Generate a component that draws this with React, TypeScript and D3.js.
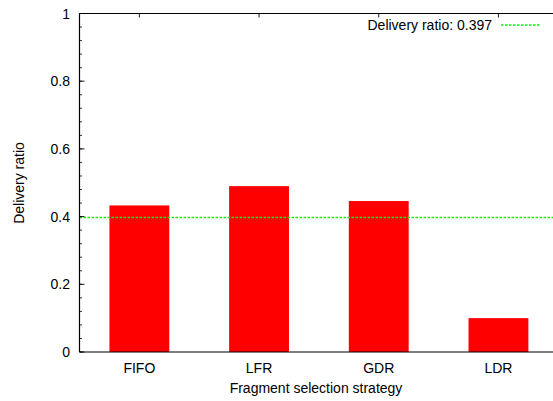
import React from "react";
import * as d3 from "d3";

const categories = ["FIFO", "LFR", "GDR", "LDR"];
const deliveryRatios = [0.433, 0.49, 0.446, 0.1];
const baselineRatio = 0.397;
const baselineLabel = "Delivery ratio: 0.397";
const yTicks = [0, 0.2, 0.4, 0.6, 0.8, 1];
const yMinorTicks = d3.range(0, 1.0001, 0.04);

const W = 553;
const H = 401;
const margin = { left: 79.5, top: 13.5, bottomY: 352 };
const FONT = "'Liberation Sans', Arial, Helvetica, sans-serif";
const FS = 14;
const GREEN = "#11ee11";

export default function App() {
  const x = d3
    .scaleLinear()
    .domain([-0.5, categories.length - 0.5])
    .range([margin.left, margin.left + 119.7 * categories.length]);
  const y = d3.scaleLinear().domain([0, 1]).range([margin.bottomY, margin.top]);
  const right = x(categories.length - 0.5);
  const barW = x(0.25) - x(0);

  return (
    <svg
      width={W}
      height={H}
      style={{ position: "absolute", left: 0, top: 0, background: "#fff" }}
      fontFamily={FONT}
    >
      {/* bars */}
      {deliveryRatios.map((v, i) => (
        <rect
          key={categories[i]}
          x={x(i) - barW}
          y={y(v)}
          width={barW * 2}
          height={y(0) - y(v)}
          fill="#ff0000"
        />
      ))}

      {/* baseline */}
      <line
        x1={x(-0.5)}
        x2={right}
        y1={y(baselineRatio)}
        y2={y(baselineRatio)}
        stroke={GREEN}
        strokeWidth={1.5}
        strokeDasharray="2.5,1.5"
      />

      {/* frame */}
      <line x1={x(-0.5)} x2={right} y1={y(1)} y2={y(1)} stroke="#000" strokeWidth={1.2} />
      <line x1={x(-0.5)} x2={right} y1={y(0)} y2={y(0)} stroke="#000" strokeWidth={1.2} />
      <line x1={x(-0.5)} x2={x(-0.5)} y1={y(0)} y2={y(1)} stroke="#000" strokeWidth={1.2} />

      {/* y ticks */}
      {yMinorTicks.map((t, i) => (
        <line
          key={"m" + i}
          x1={x(-0.5)}
          x2={x(-0.5) + 2.5}
          y1={y(t)}
          y2={y(t)}
          stroke="#000"
          strokeWidth={0.8}
        />
      ))}
      {yTicks.map((t) => (
        <g key={t}>
          <line x1={x(-0.5)} x2={x(-0.5) + 5} y1={y(t)} y2={y(t)} stroke="#000" strokeWidth={0.9} />
          <text x={70} y={y(t) + 5} textAnchor="end" fontSize={FS} fill="#000">
            {d3.format("~g")(t)}
          </text>
        </g>
      ))}

      {/* x ticks and labels */}
      {categories.map((c, i) => (
        <g key={c}>
          <line x1={x(i)} x2={x(i)} y1={y(1)} y2={y(1) + 4} stroke="#000" strokeWidth={0.9} />
          <text x={x(i)} y={373} textAnchor="middle" fontSize={FS} fill="#000">
            {c}
          </text>
        </g>
      ))}

      {/* legend */}
      <text x={492} y={30} textAnchor="end" fontSize={FS} fill="#000">
        {baselineLabel}
      </text>
      <line
        x1={501}
        x2={541}
        y1={25}
        y2={25}
        stroke={GREEN}
        strokeWidth={1.5}
        strokeDasharray="2.5,1.5"
      />

      {/* axis titles */}
      <text x={316} y={393} textAnchor="middle" fontSize={FS} fill="#000">
        Fragment selection strategy
      </text>
      <text
        transform={`translate(24,183) rotate(-90)`}
        textAnchor="middle"
        fontSize={FS}
        fill="#000"
      >
        Delivery ratio
      </text>
    </svg>
  );
}
